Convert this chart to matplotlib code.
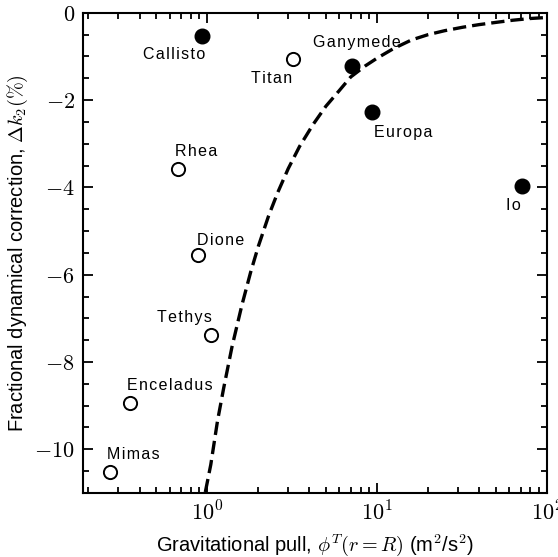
import numpy as np
import matplotlib
matplotlib.use('Agg')
import matplotlib.pyplot as plt
from matplotlib.ticker import FixedLocator, FuncFormatter, MultipleLocator, LogLocator, NullFormatter

plt.rcParams['font.family'] = ['Liberation Sans', 'DejaVu Sans']
plt.rcParams['mathtext.fontset'] = 'cm'

# moons: gravitational pull (m^2/s^2) and fractional correction (%)
moon_names = ['Callisto', 'Titan', 'Ganymede', 'Europa', 'Io',
              'Rhea', 'Dione', 'Tethys', 'Enceladus', 'Mimas']
moon_pull = [0.935, 3.2, 7.1, 9.35, 71, 0.675, 0.885, 1.055, 0.352, 0.269]
moon_dk2 = [-0.53, -1.05, -1.21, -2.27, -3.96, -3.57, -5.56, -7.37, -8.95, -10.53]
moon_filled = [True, False, True, True, True, False, False, False, False, False]
# label offsets in points (dx, dy)
label_offsets = [(-20, -13.5), (-15.5, -14.2), (3.4, 16.4), (22.2, -14.7), (-5.8, -14),
                 (13.2, 12.5), (16.1, 11.1), (-19.2, 12.5), (28.4, 13), (16.6, 13.2)]

# dashed model curve
curve_pull = [0.975, 1.05, 1.15, 1.25, 1.4, 1.6, 1.8, 2.0, 2.3, 2.6, 3.0, 3.5, 4.2, 5.0,
              6.0, 7.0, 8.5, 10, 12.5, 16, 20, 25, 32, 40, 50, 63, 80, 100]
curve_dk2 = [-10.98, -10.35, -9.35, -8.6, -7.65, -6.7, -5.95, -5.35, -4.65, -4.12, -3.57,
             -3.06, -2.56, -2.14, -1.78, -1.47, -1.22, -1.04, -0.82, -0.62, -0.5, -0.41,
             -0.33, -0.27, -0.22, -0.17, -0.13, -0.107]


def spaced(s):
    # the reference uses slightly letter-spaced labels
    return '\u200a'.join(s)


fig = plt.figure(figsize=(5.58, 5.57), dpi=100)
ax = fig.add_axes([0.149, 0.115, 0.831, 0.862])

ax.plot(curve_pull, curve_dk2, color='black', linestyle=(0, (4, 1.8)), linewidth=2.4)

for name, x, y, filled, (dx, dy) in zip(moon_names, moon_pull, moon_dk2, moon_filled, label_offsets):
    if filled:
        ax.plot(x, y, 'o', color='black', markersize=10.5)
    else:
        ax.plot(x, y, 'o', markerfacecolor='white', markeredgecolor='black',
                markersize=9.5, markeredgewidth=1.4)
    ax.annotate(spaced(name), (x, y), xytext=(dx, dy), textcoords='offset points',
                ha='center', va='center', fontsize=11.5)

ax.set_xscale('log')
ax.set_xlim(0.186, 100)
ax.set_ylim(-11, 0)

ax.xaxis.set_major_locator(FixedLocator([1, 10, 100]))
ax.xaxis.set_major_formatter(FuncFormatter(lambda v, p: r'$10^{%d}$' % round(np.log10(v))))
ax.xaxis.set_minor_locator(LogLocator(base=10, subs=np.arange(2, 10)))
ax.xaxis.set_minor_formatter(NullFormatter())
ax.yaxis.set_major_locator(MultipleLocator(2))
ax.yaxis.set_minor_locator(MultipleLocator(0.5))
ax.yaxis.set_major_formatter(FuncFormatter(lambda v, p: r'$%d$' % round(v)))

ax.tick_params(which='both', direction='in', top=True, right=True, labelsize=16, width=1.3)
ax.tick_params(which='major', length=7, pad=6)
ax.tick_params(which='minor', length=4.5)
for s in ax.spines.values():
    s.set_linewidth(1.5)

ax.set_xlabel(r'Gravitational pull, $\phi^T(r=R)$ (m$^2$/s$^2$)', fontsize=14.5, labelpad=5)
ax.set_ylabel(r'Fractional dynamical correction, $\Delta k_2(\%)$', fontsize=14.5, labelpad=3)

fig.savefig('out.png', dpi=100)
